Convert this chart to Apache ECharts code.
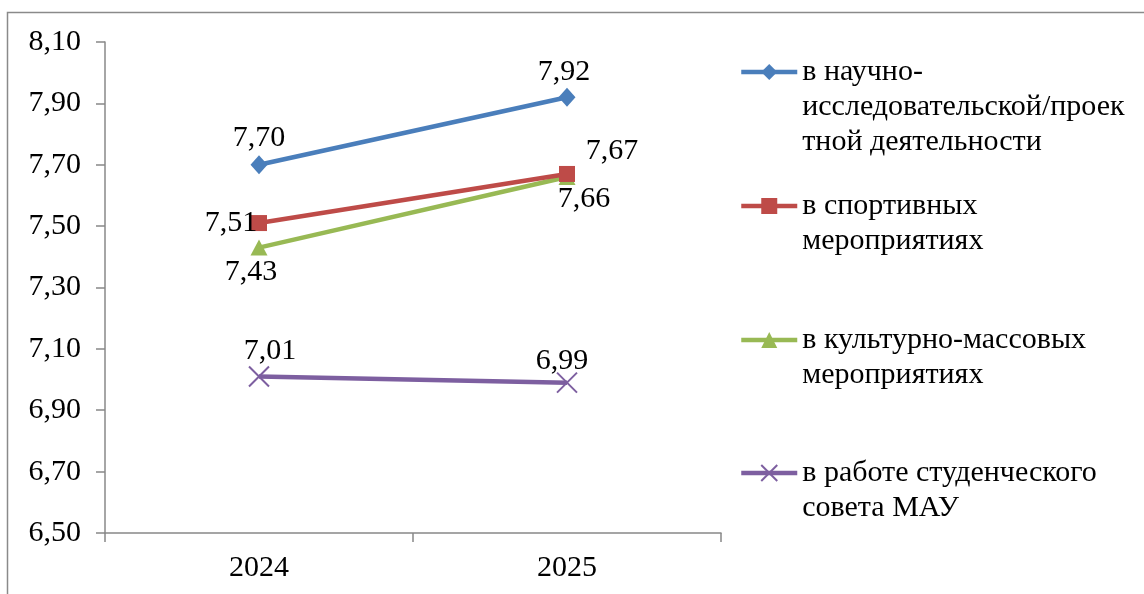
<!DOCTYPE html>
<html>
<head>
<meta charset="utf-8">
<script src="https://cdn.jsdelivr.net/npm/echarts@6/dist/echarts.min.js"></script>
<style>
html,body{margin:0;padding:0;background:#fff;}
#chart{width:1144px;height:594px;}
</style>
</head>
<body>
<div id="chart"></div>
<script>
const categories = ['2024', '2025'];
const seriesNames = [
  'в научно-\nисследовательской/проек\nтной деятельности',
  'в спортивных\nмероприятиях',
  'в культурно-массовых\nмероприятиях',
  'в работе студенческого\nсовета МАУ'
];
const researchValues = [7.70, 7.92];
const sportValues = [7.51, 7.67];
const cultureValues = [7.43, 7.66];
const councilValues = [7.01, 6.99];
const yTicks = { min: 6.5, max: 8.1, step: 0.2 };

// label offsets (dx, dy) relative to each point
const labelOffsets = [
  [[0, -27], [-3, -25]],
  [[-28, 0], [45, -23]],
  [[-8, 25], [17, 22]],
  [[11, -25], [-5, -22]]
];

const colors = ['#4A7EBB', '#BE4B48', '#98B954', '#7D5FA0'];
const symbols = ['diamond', 'rect', 'triangle', 'path://M0,0L10,10M10,0L0,10'];
const symbolSizes = [[17, 19], 16, [17, 16], 20];
const valuesList = [researchValues, sportValues, cultureValues, councilValues];
const FONT = '"Liberation Serif", "Times New Roman", serif';
const FS = 30;
const LH = 35;
const fmt = v => v.toFixed(2).replace('.', ',');

const series = valuesList.map((vals, i) => ({
  name: seriesNames[i],
  type: 'line',
  data: vals.map((v, j) => ({
    value: v,
    label: { offset: labelOffsets[i][j] }
  })),
  symbol: symbols[i],
  symbolSize: symbolSizes[i],
  showAllSymbol: true,
  lineStyle: { color: colors[i], width: 4.5 },
  itemStyle: i === 3
    ? { color: colors[i], borderColor: colors[i], borderWidth: 2 }
    : { color: colors[i] },
  label: {
    show: true,
    position: 'inside',
    formatter: p => fmt(p.value),
    fontFamily: FONT,
    fontSize: FS,
    color: '#000'
  },
  emphasis: { disabled: true },
  z: 3 + (3 - i)
}));

const iconCenters = [72, 206, 340, 473];
const legends = seriesNames.map((name, i) => {
  const lines = name.split('\n').length;
  return {
    data: [name],
    orient: 'vertical',
    left: 739,
    top: iconCenters[i] - (2 * lines - 1) * LH / 2,
    padding: 0,
    itemWidth: 56,
    itemHeight: 20,
    selectedMode: false,
    lineStyle: { width: 4.5 },
    formatter: n => '\n'.repeat(lines - 1) + n,
    textStyle: {
      fontFamily: FONT,
      fontSize: FS,
      color: '#000',
      lineHeight: LH
    }
  };
});

const chart = echarts.init(document.getElementById('chart'), null, { renderer: 'canvas' });
chart.setOption({
  backgroundColor: '#fff',
  animation: false,
  graphic: [{
    type: 'rect',
    shape: { x: 7.5, y: 12.5, width: 1300, height: 800 },
    style: { fill: 'none', stroke: '#8a8a8a', lineWidth: 1.5 },
    silent: true,
    z: -1
  }],
  grid: { left: 105, right: 1144 - 721, top: 42, bottom: 594 - 533, containLabel: false },
  legend: legends,
  xAxis: {
    type: 'category',
    data: categories,
    boundaryGap: true,
    axisLine: { lineStyle: { color: '#888', width: 1.5 } },
    axisTick: { show: true, length: 9, alignWithLabel: false, lineStyle: { color: '#888', width: 1.5 } },
    axisLabel: { fontFamily: FONT, fontSize: FS, color: '#000', margin: 20 }
  },
  yAxis: {
    type: 'value',
    min: yTicks.min,
    max: yTicks.max,
    interval: yTicks.step,
    axisLine: { show: true, lineStyle: { color: '#888', width: 1.5 } },
    axisTick: { show: true, length: 9, lineStyle: { color: '#888', width: 1.5 } },
    splitLine: { show: false },
    axisLabel: {
      fontFamily: FONT, fontSize: FS, color: '#000', margin: 24,
      formatter: v => fmt(v)
    }
  },
  series: series
});
</script>
</body>
</html>
